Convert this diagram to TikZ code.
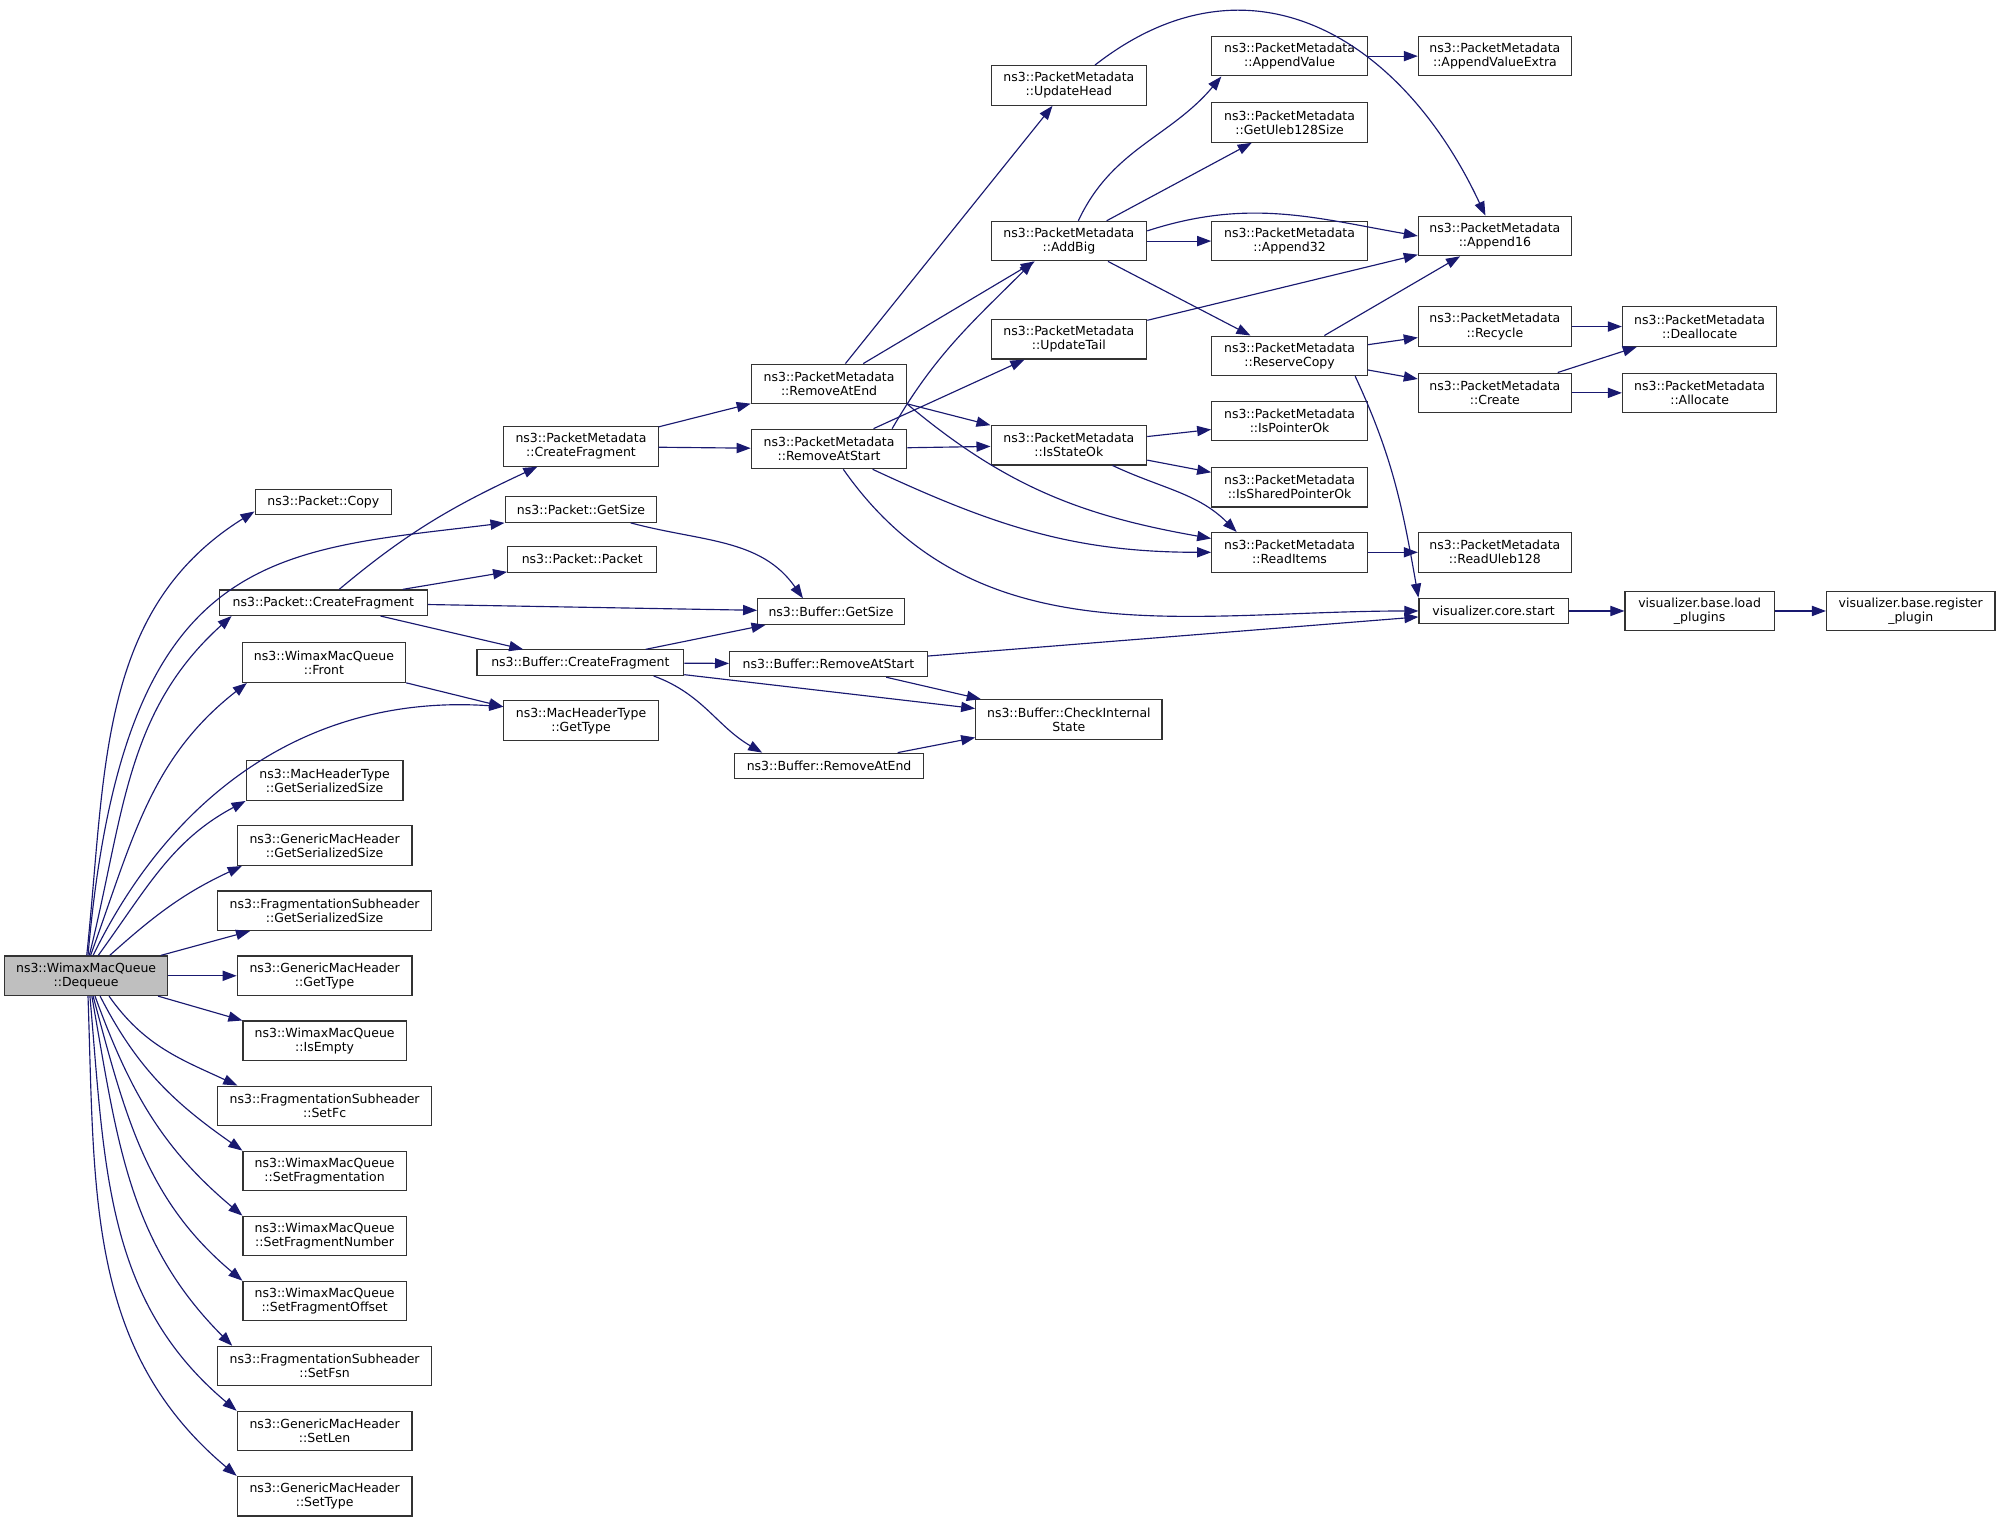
\documentclass[tikz,border=0pt]{standalone}
\usepackage{fontspec}
\setmainfont{DejaVu Sans}
\usetikzlibrary{arrows.meta, positioning}
\definecolor{callblue}{HTML}{191970}

\begin{document}
\begin{tikzpicture}[x=1pt, y=1pt, node distance=51pt,
    font=\fontsize{9.8}{11}\selectfont,
    fn/.style={draw=black!80, line width=0.9pt, fill=white, align=center,
        inner xsep=2pt, inner ysep=0pt, minimum height=31, minimum width=#1},
    fn1/.style={fn=#1, minimum height=20},
    cur/.style={fn=#1, fill=black!25},
    every edge/.style={draw=callblue, line width=0.9pt,
        -{Triangle[length=11pt, width=8pt]}}]
    \useasboundingbox (0,0) rectangle (1568,-1194.8);

    % caller and its direct callees
    \node[cur=128] (deq) at (67.5,-765) {ns3::WimaxMacQueue\\::Dequeue};
    \node[fn1=107] (copy) at (253.5,-393.5) {ns3::Packet::Copy};
    \node[fn1=119] (pgs) at (455.5,-399.5) {ns3::Packet::GetSize};
    \node[fn1=117] (ppkt) at (456.5,-438.5) {ns3::Packet::Packet};
    \node[fn1=163] (pcf) at (253.5,-472.5) {ns3::Packet::CreateFragment};
    \node[fn=128] (front) at (254,-519.5) {ns3::WimaxMacQueue\\::Front};
    \node[fn=121] (mhgt) at (455.5,-565) {ns3::MacHeaderType\\::GetType};
    \node[fn=123] (mhgss) at (254.5,-612) {ns3::MacHeaderType\\::GetSerializedSize};
    \node[fn=137, below of=mhgss] (gmhgss) {ns3::GenericMacHeader\\::GetSerializedSize};
    \node[fn=168, below of=gmhgss] (fsgss) {ns3::FragmentationSubheader\\::GetSerializedSize};
    \node[fn=137, below of=fsgss] (gmhgt) {ns3::GenericMacHeader\\::GetType};
    \node[fn=128, below of=gmhgt] (isempty) {ns3::WimaxMacQueue\\::IsEmpty};
    \node[fn=168, below of=isempty] (setfc) {ns3::FragmentationSubheader\\::SetFc};
    \node[fn=128, below of=setfc] (setfrag) {ns3::WimaxMacQueue\\::SetFragmentation};
    \node[fn=128, below of=setfrag] (setfnum) {ns3::WimaxMacQueue\\::SetFragmentNumber};
    \node[fn=128, below of=setfnum] (setfoff) {ns3::WimaxMacQueue\\::SetFragmentOffset};
    \node[fn=168, below of=setfoff] (setfsn) {ns3::FragmentationSubheader\\::SetFsn};
    \node[fn=137, below of=setfsn] (setlen) {ns3::GenericMacHeader\\::SetLen};
    \node[fn=137, below of=setlen] (settype) {ns3::GenericMacHeader\\::SetType};

    % buffer and metadata calls
    \node[fn=121] (pmcf) at (455.5,-350) {ns3::PacketMetadata\\::CreateFragment};
    \node[fn1=115] (bgs) at (651.5,-479.5) {ns3::Buffer::GetSize};
    \node[fn1=162] (bcf) at (455,-519.5) {ns3::Buffer::CreateFragment};
    \node[fn=122] (pmrae) at (650,-301) {ns3::PacketMetadata\\::RemoveAtEnd};
    \node[fn=122] (pmras) at (650,-352) {ns3::PacketMetadata\\::RemoveAtStart};
    \node[fn1=155] (brs) at (649.5,-520.5) {ns3::Buffer::RemoveAtStart};
    \node[fn1=148] (bre) at (650,-600.5) {ns3::Buffer::RemoveAtEnd};
    \node[fn=146] (check) at (838,-564) {ns3::Buffer::CheckInternal\\State};
    \node[fn=122] (uphead) at (838,-67) {ns3::PacketMetadata\\::UpdateHead};
    \node[fn=122] (addbig) at (838,-189) {ns3::PacketMetadata\\::AddBig};
    \node[fn=122] (uptail) at (838,-266) {ns3::PacketMetadata\\::UpdateTail};
    \node[fn=122] (isok) at (838,-349) {ns3::PacketMetadata\\::IsStateOk};
    \node[fn=122] (appval) at (1011,-44) {ns3::PacketMetadata\\::AppendValue};
    \node[fn=122] (uleb) at (1011,-96) {ns3::PacketMetadata\\::GetUleb128Size};
    \node[fn=122] (app32) at (1011,-189) {ns3::PacketMetadata\\::Append32};
    \node[fn=122] (resv) at (1011,-279) {ns3::PacketMetadata\\::ReserveCopy};
    \node[fn=122] (isptr) at (1011,-330) {ns3::PacketMetadata\\::IsPointerOk};
    \node[fn=122] (isshr) at (1011,-382) {ns3::PacketMetadata\\::IsSharedPointerOk};
    \node[fn=122] (items) at (1011,-433) {ns3::PacketMetadata\\::ReadItems};
    \node[fn=120, right of=appval, node distance=161pt] (appvx) {ns3::PacketMetadata\\::AppendValueExtra};
    \node[fn=120] (app16) at (1172,-185) {ns3::PacketMetadata\\::Append16};
    \node[fn=120] (recyc) at (1172,-256) {ns3::PacketMetadata\\::Recycle};
    \node[fn=120] (create) at (1172,-308) {ns3::PacketMetadata\\::Create};
    \node[fn=120, right of=items, node distance=161pt] (uleb128) {ns3::PacketMetadata\\::ReadUleb128};
    \node[fn1=117] (vstart) at (1171,-479) {visualizer.core.start};
    \node[fn=121, right of=recyc, node distance=160.5pt] (dealloc) {ns3::PacketMetadata\\::Deallocate};
    \node[fn=121, right of=create, node distance=160.5pt] (alloc) {ns3::PacketMetadata\\::Allocate};
    \node[fn=117, right of=vstart, node distance=161.5pt] (loadp) {visualizer.base.load\\\_plugins};
    \node[fn=132, right of=loadp, node distance=165.5pt] (regp) {visualizer.base.register\\\_plugin};

    \draw
        % fan out of Dequeue, upper half
        ([xshift=0.5pt]deq.north) edge[out=84, in=212] ([yshift=3pt]copy.south west)
        ([xshift=1.5pt]deq.north) edge[out=85, in=187, out looseness=1.75] (pgs.south west)
        ([xshift=2.5pt]deq.north) edge[out=76, in=222] ([xshift=10pt]pcf.south west)
        ([xshift=3.5pt]deq.north) edge[out=70, in=218] ([xshift=4pt]front.south west)
        ([xshift=5.5pt]deq.north) edge[out=64, in=176] ([yshift=-5pt]mhgt.north west)
        ([xshift=9.5pt]deq.north) edge[out=54, in=208] (mhgss.south west)
        ([xshift=18.5pt]deq.north) edge[out=42, in=205] ([xshift=4pt]gmhgss.south west)
        (deq) edge (fsgss)
        (deq) edge (gmhgt)
        ([xshift=-8pt]deq.south east) edge (isempty.north west)
        % lower half
        ([xshift=18pt]deq.south) edge[out=-55, in=155] ([xshift=16pt]setfc.north west)
        ([xshift=11pt]deq.south) edge[out=-63, in=145] (setfrag.north west)
        ([xshift=7pt]deq.south) edge[out=-70, in=140] (setfnum.north west)
        ([xshift=5.5pt]deq.south) edge[out=-75, in=140] (setfoff.north west)
        ([xshift=4.5pt]deq.south) edge[out=-80, in=135] ([xshift=12pt]setfsn.north west)
        ([xshift=3pt]deq.south) edge[out=-85, in=140] (setlen.north west)
        ([xshift=1.5pt]deq.south) edge[out=-88, in=140] (settype.north west)
        % packet and buffer
        (pgs) edge[out=-15, in=125] ([xshift=-22pt]bgs.north)
        (pcf) edge[out=40, in=205] (pmcf)
        (pcf) edge (ppkt)
        (pcf) edge (bgs)
        (pcf) edge (bcf)
        (front) edge ([yshift=-5pt]mhgt.north west)
        (bcf) edge (bgs)
        (bcf) edge (brs)
        (bcf) edge (check)
        ([xshift=-24pt]bcf.south east) edge[out=-20, in=150] ([xshift=22pt]bre.north west)
        (brs) edge (check)
        (brs) edge (vstart)
        (bre) edge (check)
        % packet metadata
        (pmcf) edge (pmrae)
        (pmcf) edge (pmras)
        (pmrae) edge (uphead)
        (pmrae) edge (addbig)
        (pmrae) edge (isok)
        (pmrae.south east) edge[out=-40, in=170] (items.170)
        ([xshift=-12pt]pmras.north east) edge[out=60, in=225] ([xshift=-28pt]addbig.south)
        (pmras) edge (uptail)
        (pmras) edge (isok)
        (pmras) edge[out=-25, in=180] (items.west)
        (pmras) edge[out=-55, in=180] (vstart.west)
        (uphead) edge[out=38, in=115, looseness=1.2] (app16)
        (addbig) edge[out=65, in=230] ([xshift=8pt]appval.south west)
        (addbig) edge (uleb)
        ([yshift=8pt]addbig.east) edge[out=18, in=170] (app16.west)
        (addbig) edge (app32)
        (addbig) edge (resv)
        (uptail) edge (app16)
        (isok) edge (isptr)
        (isok) edge (isshr)
        (isok) edge[out=-25, in=135] ([xshift=20pt]items.north west)
        (appval) edge (appvx)
        (resv) edge (app16)
        (resv) edge (recyc)
        (resv) edge (create)
        ([xshift=-10pt]resv.south east) edge[out=-65, in=100] (vstart.north west)
        (items) edge (uleb128)
        (recyc) edge (dealloc)
        (create) edge (dealloc)
        (create) edge (alloc)
        (vstart) edge (loadp)
        (loadp) edge (regp)
        ;
\end{tikzpicture}
\end{document}
